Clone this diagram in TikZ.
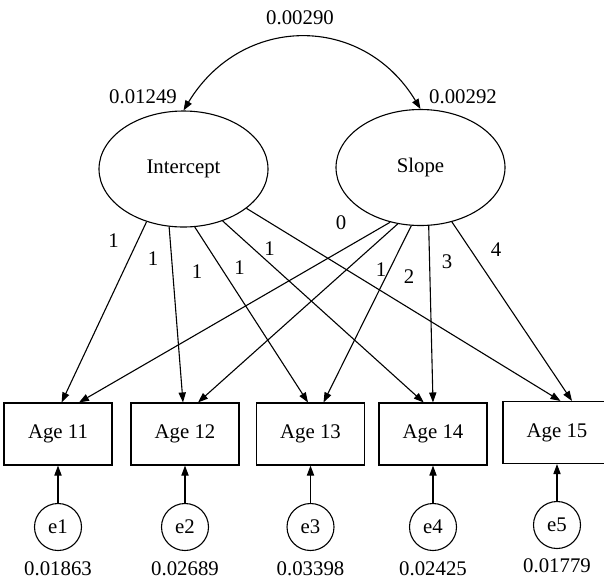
\documentclass[tikz,border=0pt]{standalone}
\usepackage{fontspec}
\setmainfont{Liberation Serif}
\usetikzlibrary{shapes.geometric,arrows.meta,calc}
\begin{document}
\begin{tikzpicture}[x=0.5pt,y=-0.5pt,
  font=\fontsize{10.4}{12}\selectfont,
  every node/.style={inner sep=0pt},
  latent/.style={draw,ellipse,minimum width=84.5pt,minimum height=58pt,line width=0.55pt},
  observed/.style={draw,rectangle,minimum width=54pt,minimum height=31pt,line width=0.55pt},
  errorvar/.style={draw,circle,minimum size=23.5pt,line width=0.55pt},
  tip/.tip={Triangle[length=5pt,width=3.6pt]},
  path/.style={line width=0.55pt,-tip},
  covpath/.style={line width=0.55pt,tip-tip},
]
\useasboundingbox (0,0) rectangle (604,580);

% latent growth factors
\node[latent] (I) at (183.5,169) {Intercept};
\node[latent] (S) at (420.5,167.5) {Slope};

% measured occasions
\node[observed] (a11) at (58,434)    {Age 11};
\node[observed] (a12) at (185,434)   {Age 12};
\node[observed] (a13) at (310.5,434) {Age 13};
\node[observed] (a14) at (433,434)   {Age 14};
\node[observed] (a15) at (557,432.5) {Age 15};

% residuals
\node[errorvar] (e1) at (58,527)    {e1};
\node[errorvar] (e2) at (185,527)   {e2};
\node[errorvar] (e3) at (310.5,527) {e3};
\node[errorvar] (e4) at (433,527)   {e4};
\node[errorvar] (e5) at (557,525)   {e5};

% variances and covariance
\node (vI)  at (143,97) {0.01249};
\node (vS)  at (463,97) {0.00292};
\node (cIS) at (300,18) {0.00290};
\node (v1) at (58,569)    {0.01863};
\node (v2) at (185,569)   {0.02689};
\node (v3) at (310.5,569) {0.03398};
\node (v4) at (433,569)   {0.02425};
\node (v5) at (557,565.5) {0.01779};

\draw[covpath] (I.north) .. controls +(58,-96) and +(-58,-96) .. (S.north);

% intercept loadings
\draw[path] (I.235.8) -- ($(a11.north)+(3.6,0)$);
\draw[path] (I.256.2) -- ($(a12.north)+(-2,0)$);
\draw[path] (I.281)   -- ($(a13.north)+(-2.5,0)$);
\draw[path] (I.307.8) -- ($(a14.north)+(-9.3,0)$);
\draw[path] (I.328.2) -- ($(a15.north)+(3.5,0)$);

% slope loadings
\draw[path] (S.241.9) -- ($(a11.north)+(21,0)$);
\draw[path] (S.248.9) -- ($(a12.north)+(13,0)$);
\draw[path] (S.261.7) -- ($(a13.north)+(13,0)$);
\draw[path] (S.278.7) -- ($(a14.north)+(0,0)$);
\draw[path] (S.300.4) -- ($(a15.north)+(15,0)$);

% loading values
\node (l1) at (113.5,241) {1};
\node (l2) at (153,259)   {1};
\node (l3) at (197,272)   {1};
\node (l4) at (239.5,268) {1};
\node (l5) at (269.5,249) {1};
\node (m1) at (341,223)   {0};
\node (m2) at (381,270)   {1};
\node (m3) at (409,277)   {2};
\node (m4) at (447,262)   {3};
\node (m5) at (496,250)   {4};

% residual paths
\draw[path] (e1) -- (a11);
\draw[path] (e2) -- (a12);
\draw[path] (e3) -- (a13);
\draw[path] (e4) -- (a14);
\draw[path] (e5) -- (a15);
\end{tikzpicture}
\end{document}
